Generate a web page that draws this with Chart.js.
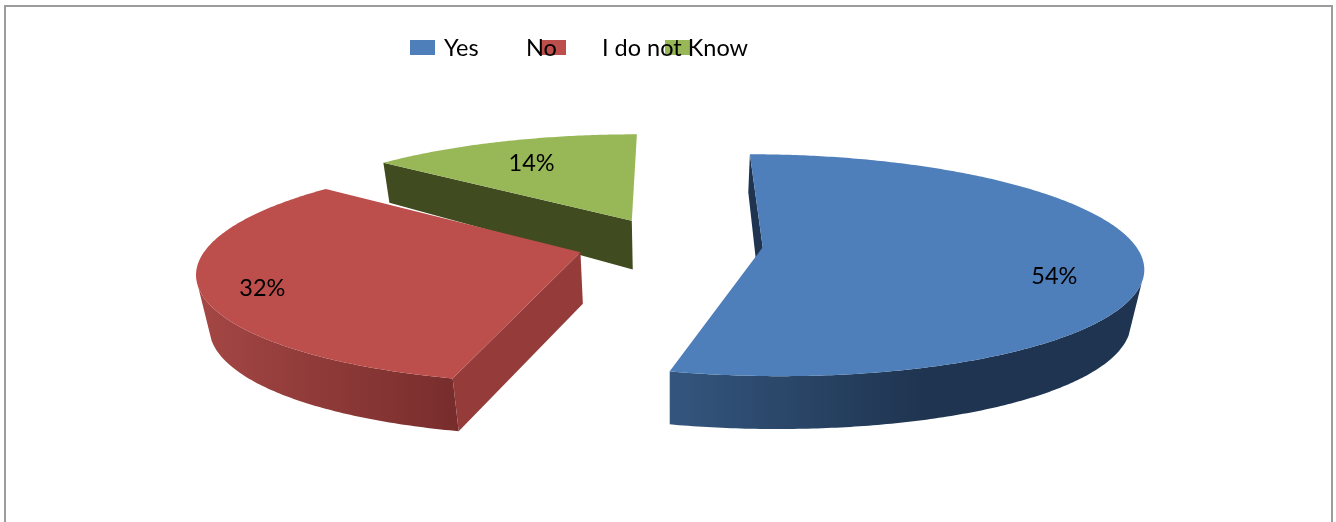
<!DOCTYPE html>
<html>
<head>
<meta charset="utf-8">
<title>Pie</title>
<script src="https://cdn.jsdelivr.net/npm/chart.js@4/dist/chart.umd.min.js"></script>
<style>
    html, body { margin: 0; padding: 0; background: #ffffff; }
    canvas { display: block; }
</style>
</head>
<body>
<canvas id="pieChart" width="1336" height="522"></canvas>
<script>
const categories = ['Yes', 'No', 'I do not Know'];
const shares = [54, 32, 14];

const topColors = ['#4e7fba', '#bc4e4b', '#98b858'];
const wallColors = ['#1f3450', '#953b39', '#414b20'];
const rimShades = [
    { from: 669, to: 925, left: '#34567e', right: '#1f3450' },
    { from: 205, to: 458, left: '#a34644', right: '#772d2c' },
    { from: 380, to: 640, left: '#414b20', right: '#414b20' }
];

// tilted disc: centre, radii, perspective strength, vanishing distance of the walls
const disc = { cx: 670, cy: 244, rx: 372, ry: 107, tilt: 0.16, sink: 1900 };

// percent labels sit at a fraction of the radius, then dropped a little
const labelReach = [0.77, 0.84, 0.75];
const labelDrop = [18, 6, 4];

const textFont = '23.5px Lato, Carlito, sans-serif';

// wall height grows toward the front of the slab, levelling off at the near edge
function wallHeight(v) {
    return 50.9 + 7.8 * v - 5.7 * v * v;
}

function project(u, v, lower) {
    const w = 1 - disc.tilt * v;
    let x = disc.cx + disc.rx * u / w;
    let y = disc.cy + disc.ry * v / w;
    if (lower) {
        const drop = wallHeight(v);
        x = disc.cx + (x - disc.cx) * (1 - drop / disc.sink);
        y += drop;
    }
    return { x, y };
}

function fillPath(ctx, points, fill) {
    ctx.beginPath();
    points.forEach((p, i) => i ? ctx.lineTo(p.x, p.y) : ctx.moveTo(p.x, p.y));
    ctx.closePath();
    ctx.fillStyle = fill;
    ctx.fill();
}

// Turns one arc element of the pie into disc coordinates
function sliceShape(arc) {
    const mid = (arc.startAngle + arc.endAngle) / 2;
    const push = arc.options.offset / arc.outerRadius;
    const ou = Math.cos(mid) * push;
    const ov = Math.sin(mid) * push;
    const rim = [];
    const steps = Math.ceil((arc.endAngle - arc.startAngle) * 90);
    for (let i = 0; i <= steps; i++) {
        const a = arc.startAngle + (arc.endAngle - arc.startAngle) * i / steps;
        rim.push([ou + Math.cos(a), ov + Math.sin(a), Math.sin(a)]);
    }
    return { mid, ou, ov, rim };
}

const tiltedPie = {
    id: 'tiltedPie',
    beforeDatasetsDraw(chart) {
        const ctx = chart.ctx;
        const arcs = chart.getDatasetMeta(0).data;

        // back slices first so the red one lands on the green wall
        for (let i = arcs.length - 1; i >= 0; i--) {
            const s = sliceShape(arcs[i]);
            const first = s.rim[0];

            // outer wall: only the rim nearest the viewer, so its ends close off straight
            const front = s.rim.filter(p => p[2] >= 0.3);
            if (front.length > 1) {
                const shade = rimShades[i];
                const grad = ctx.createLinearGradient(shade.from, 0, shade.to, 0);
                grad.addColorStop(0, shade.left);
                grad.addColorStop(1, shade.right);
                const frontUpper = front.map(p => project(p[0], p[1], false));
                const frontLower = front.map(p => project(p[0], p[1], true)).reverse();
                fillPath(ctx, frontUpper.concat(frontLower), grad);
            }

            // cut wall on the leading edge; the trailing one faces away
            fillPath(ctx, [
                project(s.ou, s.ov, false),
                project(first[0], first[1], false),
                project(first[0], first[1], true),
                project(s.ou, s.ov, true)
            ], wallColors[i]);

            // top face
            const upper = s.rim.map(p => project(p[0], p[1], false));
            fillPath(ctx, [project(s.ou, s.ov, false)].concat(upper), topColors[i]);
        }

        // value labels
        ctx.font = textFont;
        ctx.fillStyle = '#000000';
        ctx.textAlign = 'center';
        ctx.textBaseline = 'middle';
        arcs.forEach((arc, i) => {
            const s = sliceShape(arc);
            const p = project(
                s.ou + Math.cos(s.mid) * labelReach[i],
                s.ov + Math.sin(s.mid) * labelReach[i],
                false
            );
            ctx.fillText(shares[i] + '%', p.x, p.y + labelDrop[i]);
        });
        return false;
    },
    afterDraw(chart) {
        const ctx = chart.ctx;

        // frame, open at the bottom
        ctx.strokeStyle = '#9c9c9c';
        ctx.lineWidth = 2;
        ctx.beginPath();
        ctx.moveTo(5, 522);
        ctx.lineTo(5, 6);
        ctx.lineTo(1332, 6);
        ctx.lineTo(1332, 522);
        ctx.stroke();

        // legend
        const boxX = [410, 541, 665];
        const textX = [444, 526, 602];
        ctx.font = textFont;
        ctx.textAlign = 'left';
        ctx.textBaseline = 'alphabetic';
        categories.forEach((name, i) => {
            ctx.fillStyle = topColors[i];
            ctx.fillRect(boxX[i], 40, 25, 15);
        });
        ctx.fillStyle = '#000000';
        categories.forEach((name, i) => {
            ctx.fillText(name, textX[i], 56);
        });
    }
};

new Chart(document.getElementById('pieChart').getContext('2d'), {
    type: 'pie',
    data: {
        labels: categories,
        datasets: [{
            data: shares,
            backgroundColor: topColors,
            borderWidth: 0,
            offset: 58
        }]
    },
    options: {
        responsive: false,
        animation: false,
        plugins: {
            legend: { display: false },
            tooltip: { enabled: false }
        }
    },
    plugins: [tiltedPie]
});
</script>
</body>
</html>
